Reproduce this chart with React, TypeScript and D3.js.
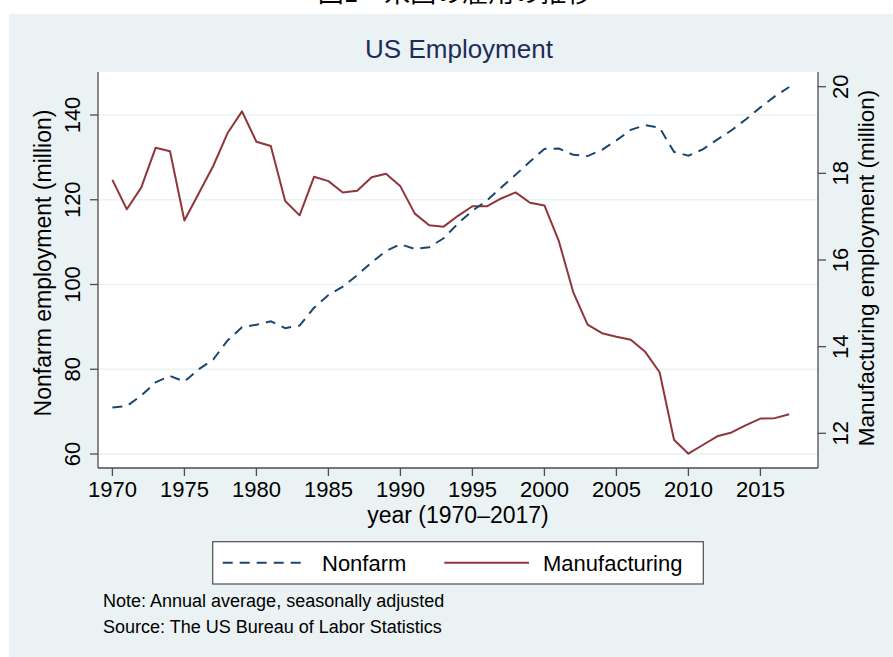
import React from 'react';
import * as d3 from 'd3';

const years = d3.range(1970, 2018);
const nonfarm = [
  71.0, 71.3, 73.8, 76.9, 78.4, 77.1, 80.0, 82.3, 86.8, 89.9,
  90.5, 91.3, 89.7, 90.3, 94.5, 97.5, 99.5, 102.2, 105.2, 107.9,
  109.5, 108.4, 108.8, 110.9, 114.4, 117.4, 119.8, 122.9, 125.9, 129.0,
  132.0, 132.1, 130.6, 130.3, 131.8, 134.0, 136.5, 137.6, 137.0, 131.3,
  130.4, 131.9, 134.2, 136.4, 139.0, 141.8, 144.4, 146.6,
];
const manufacturing = [
  17.85, 17.17, 17.67, 18.59, 18.51, 16.91, 17.54, 18.17, 18.93, 19.43,
  18.73, 18.63, 17.36, 17.03, 17.92, 17.82, 17.56, 17.60, 17.91, 17.99,
  17.70, 17.07, 16.80, 16.77, 17.02, 17.24, 17.24, 17.42, 17.56, 17.32,
  17.26, 16.44, 15.26, 14.51, 14.31, 14.23, 14.16, 13.88, 13.41, 11.85,
  11.53, 11.73, 11.93, 12.02, 12.19, 12.34, 12.35, 12.44,
];
const xTicks = [1970, 1975, 1980, 1985, 1990, 1995, 2000, 2005, 2010, 2015];
const leftTicks = [60, 80, 100, 120, 140];
const rightTicks = [12, 14, 16, 18, 20];

const FONT = '"Liberation Sans", Arial, Helvetica, sans-serif';
const NAVY = '#1a476f';
const MAROON = '#90353b';
const BG = '#eaf2f3';

const plot = { left: 98, right: 818, top: 72, bottom: 468 };

export default function App() {
  const x = d3.scaleLinear().domain([1969, 2019]).range([plot.left, plot.right]);
  const yL = d3.scaleLinear().domain([60, 140]).range([454, 115]);
  const yR = d3.scaleLinear().domain([12, 20]).range([433.3, 86.7]);

  const nfLine = d3.line<number>().x((_, i) => x(years[i])).y((d) => yL(d))(nonfarm) || '';
  const mfLine = d3.line<number>().x((_, i) => x(years[i])).y((d) => yR(d))(manufacturing) || '';

  const midY = (plot.top + plot.bottom) / 2;

  return (
    <svg
      width={893}
      height={657}
      style={{ position: 'absolute', left: 0, top: 0, fontFamily: FONT }}
    >
      <rect x={0} y={0} width={893} height={657} fill="#fff" />
      {/* page caption above the graph, cut by the top edge as in the source */}
      <text
        x={455}
        y={2}
        textAnchor="middle"
        fontSize={26}
        fontFamily='"Noto Sans CJK JP", sans-serif'
        fill="#000"
      >
        図1　米国の雇用の推移
      </text>
      <rect x={9} y={14} width={884} height={643} fill={BG} />

      {/* title */}
      <text x={459} y={58} textAnchor="middle" fontSize={26} fill="#1c2c5b">
        US Employment
      </text>

      {/* plot region */}
      <rect
        x={plot.left}
        y={plot.top}
        width={plot.right - plot.left}
        height={plot.bottom - plot.top}
        fill="#fff"
      />
      {leftTicks.map((t) => (
        <line key={'g' + t} x1={plot.left} x2={plot.right} y1={yL(t)} y2={yL(t)} stroke={BG} strokeWidth={1.5} />
      ))}

      <path d={mfLine} fill="none" stroke={MAROON} strokeWidth={2} strokeLinejoin="round" />
      <path d={nfLine} fill="none" stroke={NAVY} strokeWidth={2} strokeDasharray="10 7" />

      {/* axes */}
      <g stroke="#4d4d4d" strokeWidth={1.3}>
        <line x1={plot.left} x2={plot.left} y1={plot.top} y2={plot.bottom} />
        <line x1={plot.right} x2={plot.right} y1={plot.top} y2={plot.bottom} />
        <line x1={plot.left} x2={plot.right} y1={plot.bottom} y2={plot.bottom} />
        {leftTicks.map((t) => (
          <line key={'lt' + t} x1={plot.left - 8} x2={plot.left} y1={yL(t)} y2={yL(t)} />
        ))}
        {rightTicks.map((t) => (
          <line key={'rt' + t} x1={plot.right} x2={plot.right + 8} y1={yR(t)} y2={yR(t)} />
        ))}
        {xTicks.map((t) => (
          <line key={'xt' + t} x1={x(t)} x2={x(t)} y1={plot.bottom} y2={plot.bottom + 8} />
        ))}
      </g>

      {leftTicks.map((t) => (
        <text key={'ll' + t} transform={`translate(80,${yL(t)}) rotate(-90)`} textAnchor="middle" fontSize={22}>
          {t}
        </text>
      ))}
      {rightTicks.map((t) => (
        <text key={'rl' + t} transform={`translate(848,${yR(t)}) rotate(-90)`} textAnchor="middle" fontSize={22}>
          {t}
        </text>
      ))}
      {xTicks.map((t) => (
        <text key={'xl' + t} x={x(t)} y={497} textAnchor="middle" fontSize={22}>
          {t}
        </text>
      ))}

      <text transform={`translate(51,${midY - 7}) rotate(-90)`} textAnchor="middle" fontSize={23}>
        Nonfarm employment (million)
      </text>
      <text transform={`translate(874,${midY - 2}) rotate(-90)`} textAnchor="middle" fontSize={22.5}>
        Manufacturing employment (million)
      </text>
      <text x={458} y={523} textAnchor="middle" fontSize={23}>
        year (1970–2017)
      </text>

      {/* legend */}
      <rect x={212.7} y={541.7} width={490.6} height={42.3} fill="#fff" stroke="#4d4d4d" strokeWidth={1.2} />
      <line x1={222.7} x2={307.3} y1={562.7} y2={562.7} stroke={NAVY} strokeWidth={2} strokeDasharray="10 7" />
      <text x={322} y={570.7} fontSize={22}>Nonfarm</text>
      <line x1={444.3} x2={529} y1={562.7} y2={562.7} stroke={MAROON} strokeWidth={2} />
      <text x={543} y={570.7} fontSize={22}>Manufacturing</text>

      {/* notes */}
      <text x={103} y={607} fontSize={18}>Note: Annual average, seasonally adjusted</text>
      <text x={103} y={633} fontSize={18}>Source: The US Bureau of Labor Statistics</text>
    </svg>
  );
}
